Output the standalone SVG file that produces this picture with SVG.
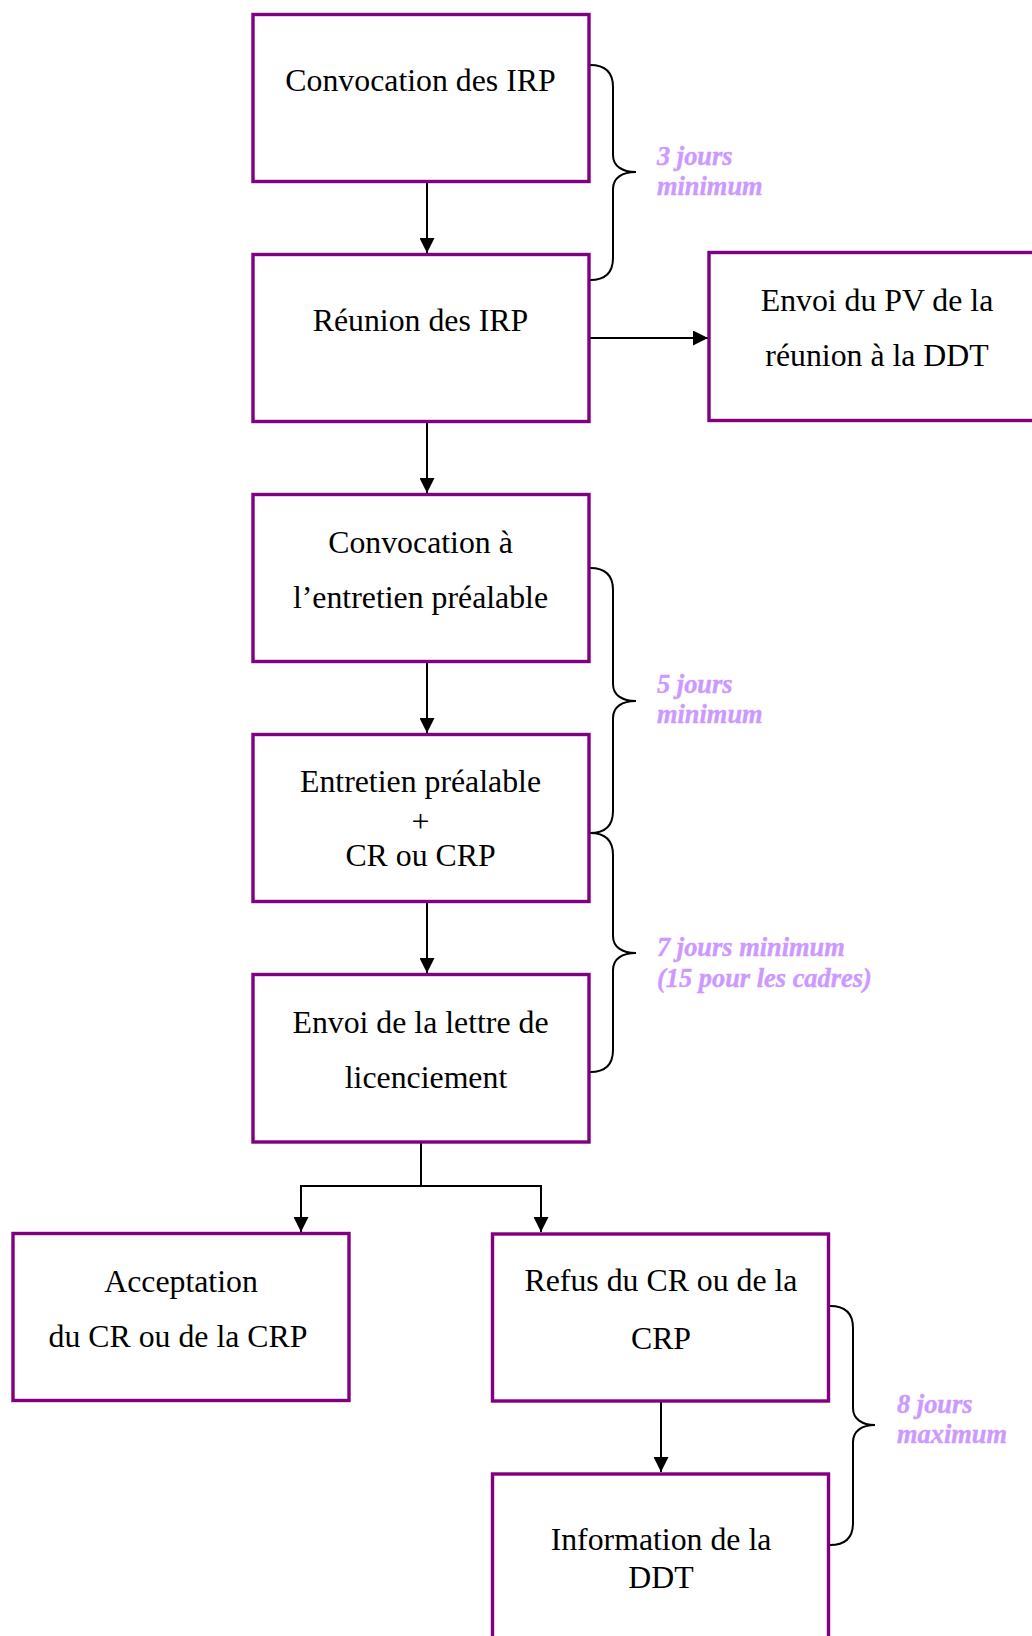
<svg xmlns="http://www.w3.org/2000/svg" width="1032" height="1636" viewBox="0 0 1032 1636">
  <style>
    .box { fill: #ffffff; stroke: #800080; stroke-width: 3.4; }
    .t { font-family: "Liberation Serif", "Times New Roman", serif; font-size: 31.8px; fill: #000000; text-anchor: middle; }
    .lbl { font-family: "Liberation Serif", "Times New Roman", serif; font-size: 26.4px; font-weight: bold; font-style: italic; fill: #CC99FF; stroke: #CC99FF; stroke-width: 0.4; }
    .ln { fill: none; stroke: #000000; stroke-width: 2; }
    .br { fill: none; stroke: #000000; stroke-width: 2; }
  </style>
  <defs>
    <marker id="arrow" markerUnits="userSpaceOnUse" markerWidth="16" markerHeight="15" refX="15" refY="7.5" orient="auto">
      <path d="M0,0 L15,7.5 L0,15 z" fill="#000000"/>
    </marker>
  </defs>
  <rect width="1032" height="1636" fill="#ffffff"/>

  <!-- connectors -->
  <g id="connectors">
    <line class="ln" x1="427" y1="183" x2="427" y2="253" marker-end="url(#arrow)"/>
    <line class="ln" x1="427" y1="423" x2="427" y2="493" marker-end="url(#arrow)"/>
    <line class="ln" x1="427" y1="663" x2="427" y2="733" marker-end="url(#arrow)"/>
    <line class="ln" x1="427" y1="903" x2="427" y2="973" marker-end="url(#arrow)"/>
    <line class="ln" x1="590" y1="338" x2="708" y2="338" marker-end="url(#arrow)"/>
    <polyline class="ln" points="421,1143 421,1186 301,1186 301,1232" marker-end="url(#arrow)"/>
    <polyline class="ln" points="421,1186 541,1186 541,1232" marker-end="url(#arrow)"/>
    <line class="ln" x1="661" y1="1402" x2="661" y2="1472" marker-end="url(#arrow)"/>
  </g>

  <!-- braces and delay labels -->
  <g id="brace-3j">
    <path class="br" d="M590,65 C605,65 613,72 613,87 L613,155 C613,166 622,172 636,172 C622,172 613,178 613,189 L613,258 C613,273 605,280 590,280"/>
    <text class="lbl" x="657" y="164.5">3 jours</text>
    <text class="lbl" x="657" y="194.5">minimum</text>
  </g>
  <g id="brace-5j">
    <path class="br" d="M590,568 C605,568 613,575 613,590 L613,684 C613,695 622,701 636,701 C622,701 613,707 613,718 L613,811 C613,826 605,833 590,833"/>
    <text class="lbl" x="657" y="692.7">5 jours</text>
    <text class="lbl" x="657" y="722.7">minimum</text>
  </g>
  <g id="brace-7j">
    <path class="br" d="M590,833 C605,833 613,840 613,855 L613,936 C613,947 622,953 636,953 C622,953 613,959 613,970 L613,1050 C613,1065 605,1072 590,1072"/>
    <text class="lbl" x="657" y="956">7 jours minimum</text>
    <text class="lbl" x="657" y="986.7">(15 pour les cadres)</text>
  </g>
  <g id="brace-8j">
    <path class="br" d="M830,1306 C845,1306 853,1313 853,1328 L853,1408 C853,1419 862,1425 875,1425 C862,1425 853,1431 853,1442 L853,1523 C853,1538 845,1545 830,1545"/>
    <text class="lbl" x="897" y="1412.7">8 jours</text>
    <text class="lbl" x="897" y="1442.7">maximum</text>
  </g>

  <!-- nodes -->
  <g id="convocation-irp">
    <rect class="box" x="253" y="14.5" width="336" height="167"/>
    <text class="t" x="420.5" y="90.7">Convocation des IRP</text>
  </g>
  <g id="reunion-irp">
    <rect class="box" x="253" y="254.5" width="336" height="167"/>
    <text class="t" x="420.5" y="331">Réunion des IRP</text>
  </g>
  <g id="envoi-pv">
    <rect class="box" x="709" y="252.5" width="336" height="168"/>
    <text class="t" x="877" y="310.7">Envoi du PV de la</text>
    <text class="t" x="877" y="366">réunion à la DDT</text>
  </g>
  <g id="convocation-entretien">
    <rect class="box" x="253" y="494.5" width="336" height="167"/>
    <text class="t" x="420.5" y="552.7">Convocation à</text>
    <text class="t" x="420.5" y="607.7">l’entretien préalable</text>
  </g>
  <g id="entretien-prealable">
    <rect class="box" x="253" y="734.5" width="336" height="167"/>
    <text class="t" x="420.5" y="791.7">Entretien préalable</text>
    <text class="t" x="420.5" y="832" fill="#333333">+</text>
    <text class="t" x="420.5" y="865.7">CR ou CRP</text>
  </g>
  <g id="lettre-licenciement">
    <rect class="box" x="253" y="974.5" width="336" height="167.5"/>
    <text class="t" x="420.5" y="1033.3">Envoi de la lettre de</text>
    <text class="t" x="426" y="1088.3">licenciement</text>
  </g>
  <g id="acceptation">
    <rect class="box" x="13" y="1233.5" width="336" height="167"/>
    <text class="t" x="181" y="1291.7">Acceptation</text>
    <text class="t" x="178" y="1347.3">du CR ou de la CRP</text>
  </g>
  <g id="refus">
    <rect class="box" x="492.5" y="1234" width="336" height="167"/>
    <text class="t" x="661" y="1290.7">Refus du CR ou de la</text>
    <text class="t" x="661" y="1349">CRP</text>
  </g>
  <g id="information-ddt">
    <rect class="box" x="492.5" y="1474" width="336" height="167"/>
    <text class="t" x="661" y="1550">Information de la</text>
    <text class="t" x="661" y="1588.3">DDT</text>
  </g>
</svg>
